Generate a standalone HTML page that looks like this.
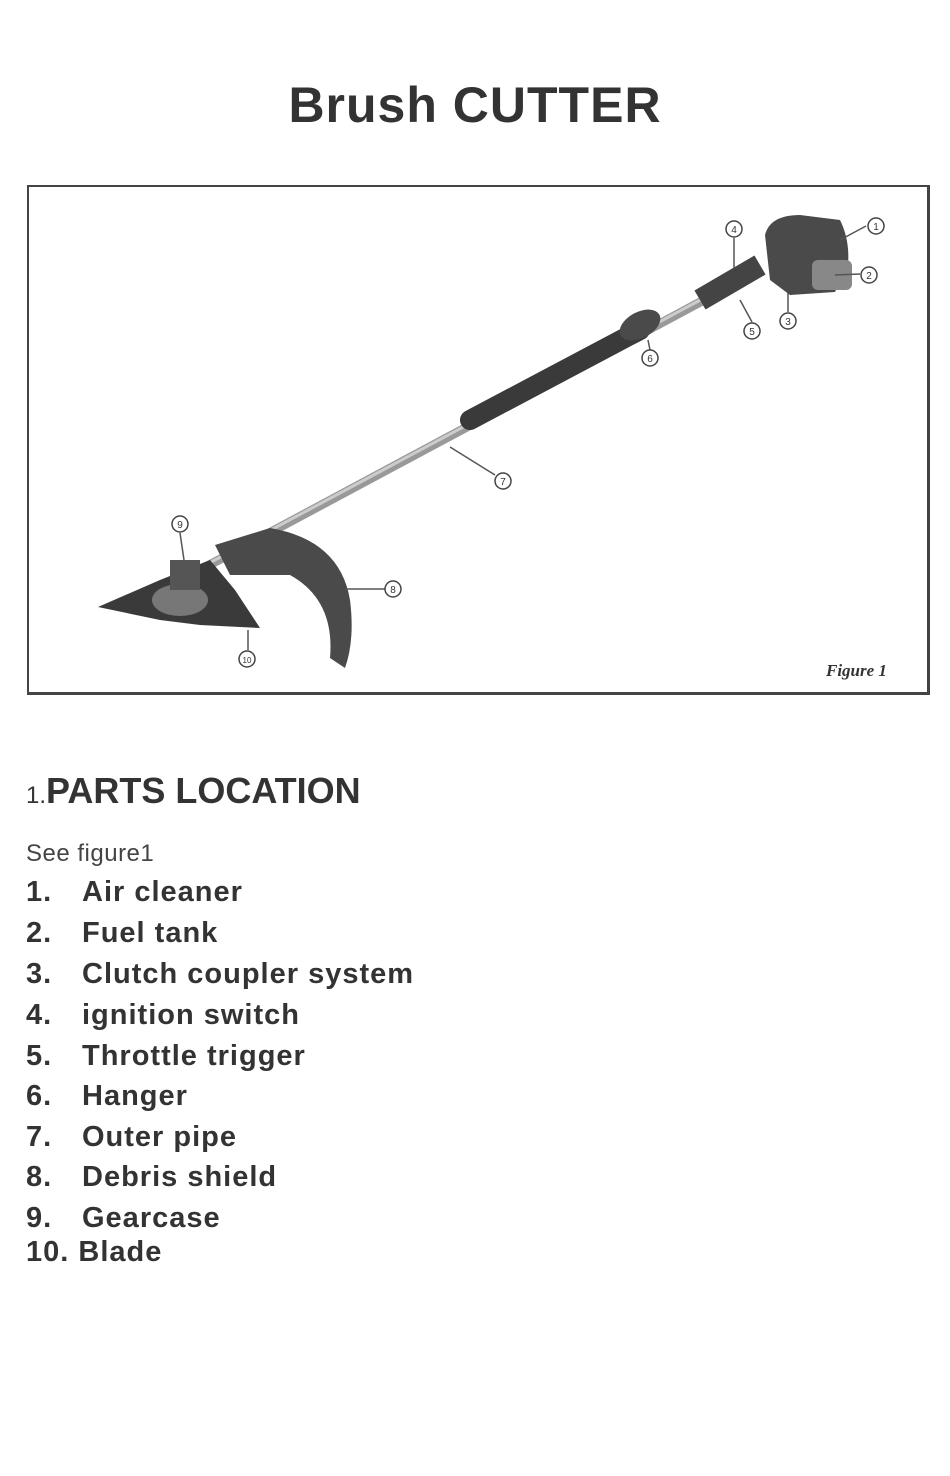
<!DOCTYPE html>
<html><head><meta charset="utf-8"><style>
body{margin:0;width:950px;height:1476px;background:#fff;position:relative;font-family:"Liberation Sans",Arial,sans-serif;color:#333;overflow:hidden}
.t{position:absolute;left:0;width:950px;text-align:center;top:76px;font-size:50px;letter-spacing:1px;font-weight:bold;color:#333}
.box{position:absolute;left:27px;top:185px;width:898px;height:505px;border:2px solid #444;border-right-width:3px;border-bottom-width:3px}
.h{position:absolute;left:26px;top:770px;font-size:36px;font-weight:bold;color:#333}
.h span{font-size:24px;font-weight:normal}
.s{position:absolute;left:26px;top:840px;font-size:24px;letter-spacing:0.5px;color:#444}
.li{position:absolute;left:26px;font-size:29px;letter-spacing:1px;font-weight:bold;color:#333;white-space:pre}
.li b{display:inline-block;width:56px}
</style></head><body>
<div class="t">Brush CUTTER</div>
<div class="box"></div>
<svg style="position:absolute;left:0;top:0" width="950" height="700">
<g fill="#444" stroke="none">
<line x1="200" y1="570" x2="760" y2="270" stroke="#999" stroke-width="9"/>
<line x1="200" y1="568" x2="760" y2="268" stroke="#ccc" stroke-width="3"/>
<line x1="470" y1="420" x2="640" y2="330" stroke="#3a3a3a" stroke-width="20" stroke-linecap="round"/>
<ellipse cx="640" cy="325" rx="22" ry="13" fill="#4a4a4a" transform="rotate(-28 640 325)"/>
<line x1="700" y1="300" x2="760" y2="265" stroke="#444" stroke-width="22"/>
<path d="M765 235 Q770 215 800 215 L840 220 Q850 240 848 265 L835 292 L790 295 L770 280 Z" fill="#4a4a4a"/>
<rect x="812" y="260" width="40" height="30" rx="6" fill="#888"/>
<path d="M215 545 L270 528 Q340 540 350 600 Q355 640 345 668 L330 658 Q335 600 290 575 L230 575 Z" fill="#4a4a4a"/>
<path d="M98 607 L160 580 L210 560 L235 590 L260 628 L200 625 L160 620 Z" fill="#3a3a3a"/>
<ellipse cx="180" cy="600" rx="28" ry="16" fill="#777"/>
<rect x="170" y="560" width="30" height="30" fill="#555"/>
</g>
<g fill="none" stroke="#555" stroke-width="1.5">
<line x1="866" y1="226" x2="840" y2="240"/><line x1="860" y1="274" x2="835" y2="275"/>
<line x1="788" y1="312" x2="788" y2="293"/><line x1="734" y1="238" x2="734" y2="268"/>
<line x1="752" y1="322" x2="740" y2="300"/><line x1="650" y1="350" x2="648" y2="340"/>
<line x1="495" y1="475" x2="450" y2="447"/><line x1="385" y1="589" x2="345" y2="589"/>
<line x1="180" y1="533" x2="184" y2="560"/><line x1="248" y1="650" x2="248" y2="630"/>
</g>
<g font-family="Liberation Sans,sans-serif" font-size="10" text-anchor="middle" fill="#333">
<g fill="#fff" stroke="#444" stroke-width="1.5">
<circle cx="876" cy="226" r="8"/><circle cx="869" cy="275" r="8"/><circle cx="788" cy="321" r="8"/>
<circle cx="734" cy="229" r="8"/><circle cx="752" cy="331" r="8"/><circle cx="650" cy="358" r="8"/>
<circle cx="503" cy="481" r="8"/><circle cx="393" cy="589" r="8"/><circle cx="180" cy="524" r="8"/><circle cx="247" cy="659" r="8"/>
</g>
<text x="876" y="230">1</text><text x="869" y="279">2</text><text x="788" y="325">3</text>
<text x="734" y="233">4</text><text x="752" y="335">5</text><text x="650" y="362">6</text>
<text x="503" y="485">7</text><text x="393" y="593">8</text><text x="180" y="528">9</text><text x="247" y="663" font-size="8">10</text>
</g>
<text x="826" y="676" font-family="Liberation Serif,serif" font-style="italic" font-weight="bold" font-size="17" fill="#333">Figure 1</text>
</svg>
<div class="h"><span>1.</span>PARTS LOCATION</div>
<div class="s">See figure1</div>
<div class="li" style="top:876px"><b>1.</b>Air cleaner</div>
<div class="li" style="top:917px"><b>2.</b>Fuel tank</div>
<div class="li" style="top:958px"><b>3.</b>Clutch coupler system</div>
<div class="li" style="top:999px"><b>4.</b>ignition switch</div>
<div class="li" style="top:1040px"><b>5.</b>Throttle trigger</div>
<div class="li" style="top:1080px"><b>6.</b>Hanger</div>
<div class="li" style="top:1121px"><b>7.</b>Outer pipe</div>
<div class="li" style="top:1161px"><b>8.</b>Debris shield</div>
<div class="li" style="top:1202px"><b>9.</b>Gearcase</div>
<div class="li" style="top:1236px">10. Blade</div>
</body></html>
